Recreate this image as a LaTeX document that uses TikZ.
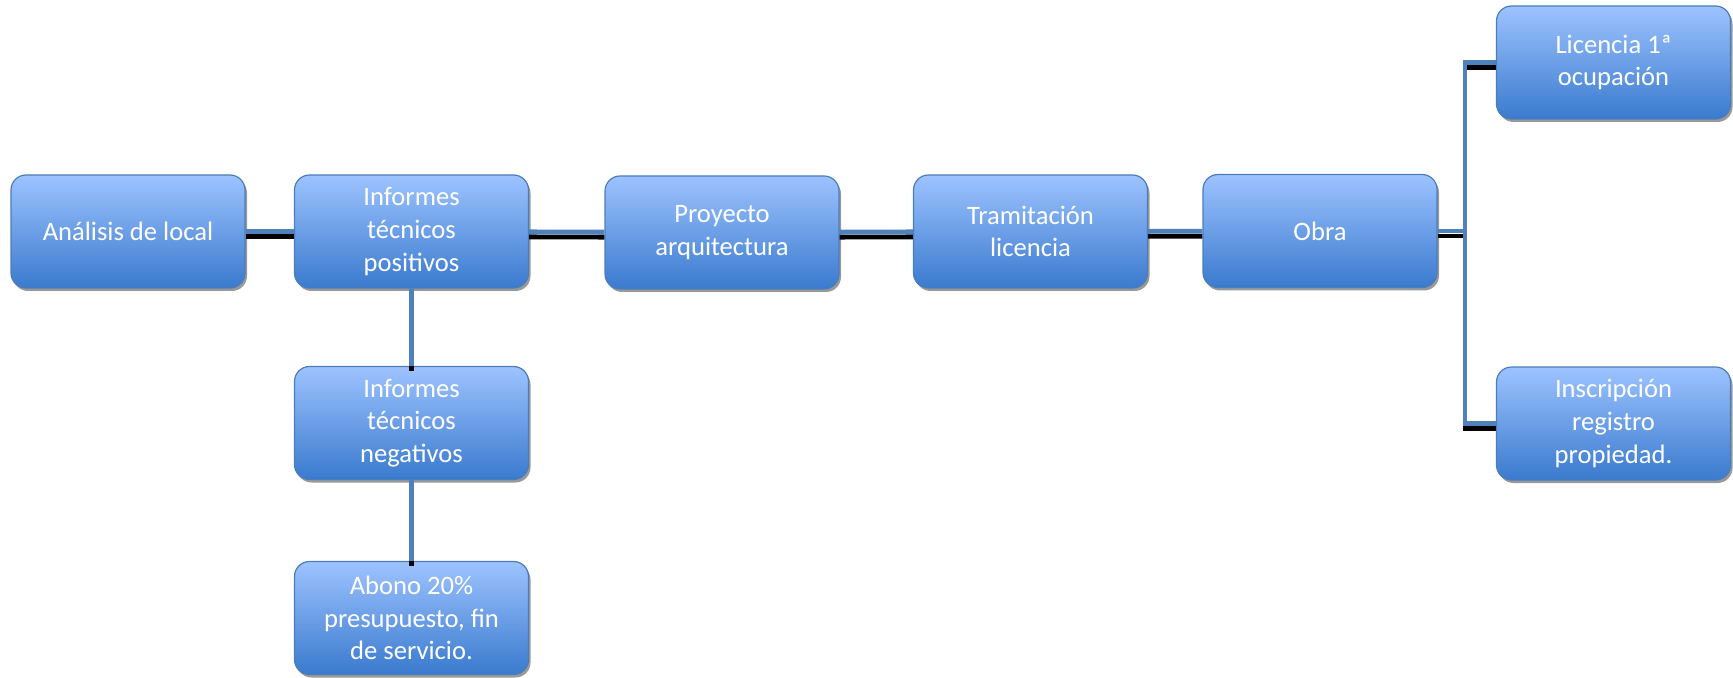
\documentclass[tikz,border=0pt]{standalone}
\usepackage{fontspec}
\setmainfont{Carlito}
\usetikzlibrary{shadows}
\definecolor{boxtop}{RGB}{157,195,255}
\definecolor{boxbottom}{RGB}{58,122,206}
\definecolor{boxline}{RGB}{74,126,187}
\definecolor{linkblue}{RGB}{79,129,189}
\begin{document}
\begin{tikzpicture}[x=0.5pt, y=-0.5pt,
	stage/.style={rectangle, rounded corners=7.5pt, draw=boxline, line width=0.6pt,
		top color=boxtop, bottom color=boxbottom, minimum width=117pt, minimum height=56.5pt,
		inner sep=2pt, align=center, text=white, font=\fontsize{13.3pt}{16.4pt}\selectfont,
		drop shadow={shadow xshift=1pt, shadow yshift=-1.5pt, fill=black!40, opacity=1}},
	link/.style={draw=linkblue, line width=2.4pt,
		preaction={draw=black, line width=2.4pt, transform canvas={yshift=-2.5pt}}}]
	\useasboundingbox (0,0) rectangle (1733,678);
	\node (analisis)	at (128,    231.5)	[stage]	{Análisis de local};
	\node (positivos)	at (411.5,  231.5)	[stage]	{Informes\\técnicos\\positivos};
	\node (proyecto)	at (722,    232.5)	[stage]	{Proyecto\\arquitectura};
	\node (tramitacion)	at (1030.5, 231.5)	[stage]	{Tramitación\\licencia};
	\node (obra)		at (1320,   231)	[stage]	{Obra};
	\node (ocupacion)	at (1613.5, 62.5)	[stage]	{Licencia 1ª\\ocupación};
	\node (registro)	at (1613.5, 423.5)	[stage]	{Inscripción\\registro\\propiedad.};
	\node (negativos)	at (411.5,  423)	[stage]	{Informes\\técnicos\\negativos};
	\node (abono)		at (411.5,  618)	[stage]	{Abono 20\%\\presupuesto, fin\\de servicio.};
	\coordinate (fork) at (1465, 231);

	\draw[link] (analisis) -- (positivos);
	\draw[link] (positivos) -- (proyecto);
	\draw[link] (proyecto) -- (tramitacion);
	\draw[link] (tramitacion) -- (obra);
	\draw[link] (obra) -- (fork);
	\draw[link] (ocupacion.west) -| (fork) |- (registro.west);
	\draw[link] (positivos) -- (negativos);
	\draw[link] (negativos) -- (abono);
\end{tikzpicture}
\end{document}
